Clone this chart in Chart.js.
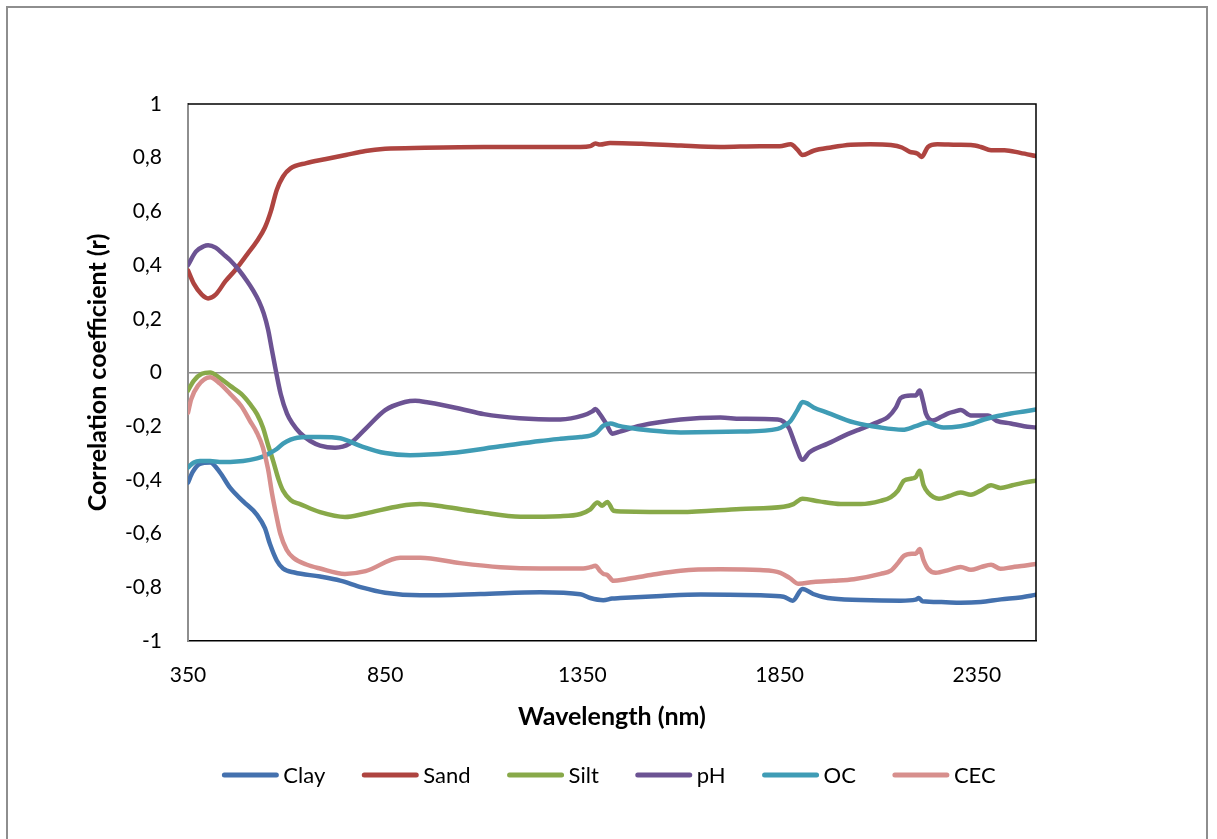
<!DOCTYPE html>
<html>
<head>
<meta charset="utf-8">
<script src="https://cdn.jsdelivr.net/npm/chart.js@4.4.1/dist/chart.umd.min.js"></script>
<style>
  html, body { margin: 0; padding: 0; background: #ffffff; overflow: hidden; }
  #wrap { position: relative; width: 1217px; height: 839px; }
  #frame { position: absolute; left: 6px; top: 6px; width: 1202px; height: 900px;
           border: 2px solid #8e8e8e; box-sizing: border-box; pointer-events: none; }
  canvas { position: absolute; left: 0; top: 0; }
</style>
</head>
<body>
<div id="wrap">
  <canvas id="chart" width="1217" height="839"></canvas>
  <div id="frame"></div>
</div>
<script>
// Correlation between soil properties and reflectance, 350–2500 nm
const xTicks = [350, 850, 1350, 1850, 2350];
const seriesNames = ['Clay', 'Sand', 'Silt', 'pH', 'OC', 'CEC'];
const seriesColors = ['#4471AE', '#AE4440', '#88A949', '#6C5393', '#3F9CB5', '#D78F8D'];

const clayWl = [350, 362, 380, 406, 430, 457, 490, 525, 545, 558, 575, 591, 620, 685, 736, 790, 850, 939, 1091, 1243, 1345, 1370, 1403, 1425, 1446, 1550, 1650, 1802, 1860, 1883, 1908, 1935, 1972, 2056, 2157, 2195, 2203, 2212, 2260, 2309, 2360, 2411, 2460, 2500];
const clayR  = [-0.41, -0.37, -0.34, -0.335, -0.37, -0.43, -0.48, -0.53, -0.58, -0.64, -0.70, -0.73, -0.745, -0.76, -0.775, -0.80, -0.82, -0.83, -0.825, -0.818, -0.826, -0.84, -0.848, -0.842, -0.84, -0.832, -0.827, -0.83, -0.835, -0.85, -0.806, -0.825, -0.84, -0.847, -0.85, -0.846, -0.84, -0.852, -0.855, -0.858, -0.855, -0.845, -0.838, -0.828];

const sandWl = [350, 365, 385, 401, 420, 445, 469, 500, 525, 545, 560, 575, 591, 610, 650, 700, 750, 800, 850, 950, 1100, 1250, 1345, 1370, 1383, 1395, 1420, 1500, 1600, 1700, 1800, 1850, 1878, 1895, 1908, 1936, 1980, 2030, 2080, 2132, 2160, 2180, 2200, 2210, 2226, 2250, 2300, 2335, 2360, 2386, 2420, 2460, 2500];
const sandR  = [0.38, 0.33, 0.29, 0.276, 0.29, 0.34, 0.38, 0.44, 0.49, 0.54, 0.60, 0.68, 0.73, 0.76, 0.78, 0.795, 0.81, 0.825, 0.833, 0.837, 0.84, 0.84, 0.84, 0.843, 0.853, 0.849, 0.855, 0.852, 0.845, 0.84, 0.843, 0.843, 0.85, 0.83, 0.81, 0.826, 0.838, 0.848, 0.85, 0.847, 0.838, 0.822, 0.815, 0.803, 0.84, 0.85, 0.848, 0.847, 0.84, 0.828, 0.828, 0.818, 0.806];

const siltWl = [350, 365, 385, 406, 430, 457, 485, 507, 525, 540, 553, 566, 580, 591, 610, 634, 685, 748, 800, 888, 939, 1000, 1091, 1193, 1294, 1345, 1370, 1388, 1400, 1413, 1429, 1450, 1599, 1751, 1860, 1885, 1908, 1950, 2005, 2056, 2106, 2132, 2150, 2165, 2185, 2195, 2205, 2215, 2226, 2254, 2280, 2309, 2335, 2360, 2386, 2410, 2440, 2470, 2500];
const siltR  = [-0.067, -0.03, -0.005, 0.0, -0.02, -0.05, -0.08, -0.117, -0.155, -0.205, -0.27, -0.33, -0.40, -0.44, -0.475, -0.49, -0.52, -0.538, -0.525, -0.497, -0.49, -0.50, -0.52, -0.537, -0.535, -0.527, -0.51, -0.484, -0.496, -0.482, -0.515, -0.518, -0.52, -0.508, -0.50, -0.49, -0.47, -0.48, -0.49, -0.49, -0.478, -0.464, -0.44, -0.403, -0.395, -0.39, -0.366, -0.42, -0.447, -0.47, -0.46, -0.447, -0.455, -0.44, -0.42, -0.43, -0.42, -0.41, -0.403];

const phWl = [350, 370, 390, 401, 420, 440, 457, 480, 500, 515, 530, 542, 553, 562, 571, 585, 601, 615, 634, 660, 685, 723, 760, 800, 850, 900, 926, 960, 1040, 1100, 1190, 1294, 1352, 1375, 1383, 1392, 1410, 1426, 1445, 1497, 1599, 1700, 1751, 1845, 1873, 1890, 1908, 1925, 1972, 2030, 2056, 2106, 2124, 2145, 2157, 2183, 2195, 2205, 2214, 2221, 2238, 2260, 2276, 2295, 2309, 2335, 2378, 2400, 2436, 2470, 2500];
const phR  = [0.40, 0.45, 0.47, 0.474, 0.465, 0.44, 0.418, 0.38, 0.34, 0.306, 0.265, 0.22, 0.16, 0.09, 0.02, -0.08, -0.153, -0.19, -0.225, -0.255, -0.272, -0.28, -0.265, -0.21, -0.14, -0.11, -0.105, -0.112, -0.135, -0.155, -0.17, -0.175, -0.16, -0.145, -0.136, -0.15, -0.19, -0.228, -0.22, -0.198, -0.175, -0.168, -0.172, -0.175, -0.205, -0.27, -0.325, -0.298, -0.265, -0.225, -0.21, -0.18, -0.167, -0.13, -0.095, -0.086, -0.086, -0.067, -0.11, -0.153, -0.179, -0.165, -0.153, -0.145, -0.14, -0.16, -0.16, -0.18, -0.19, -0.20, -0.205];

const ocWl = [350, 365, 380, 406, 430, 457, 490, 525, 545, 558, 575, 591, 610, 627, 650, 685, 736, 790, 850, 913, 1015, 1142, 1243, 1294, 1345, 1370, 1385, 1403, 1421, 1440, 1464, 1523, 1599, 1751, 1845, 1865, 1878, 1895, 1908, 1920, 1936, 1972, 2038, 2106, 2162, 2195, 2226, 2250, 2266, 2309, 2340, 2368, 2400, 2436, 2470, 2500];
const ocR  = [-0.354, -0.335, -0.33, -0.33, -0.333, -0.333, -0.33, -0.32, -0.31, -0.30, -0.285, -0.265, -0.25, -0.243, -0.24, -0.24, -0.245, -0.275, -0.30, -0.308, -0.30, -0.275, -0.255, -0.247, -0.24, -0.235, -0.225, -0.198, -0.19, -0.198, -0.205, -0.216, -0.223, -0.22, -0.21, -0.195, -0.18, -0.14, -0.11, -0.115, -0.13, -0.15, -0.186, -0.205, -0.213, -0.20, -0.186, -0.20, -0.205, -0.20, -0.19, -0.175, -0.163, -0.153, -0.145, -0.138];

const cecWl = [350, 358, 375, 406, 430, 457, 485, 507, 525, 540, 553, 563, 575, 584, 600, 617, 650, 685, 748, 800, 888, 939, 1040, 1142, 1243, 1352, 1370, 1383, 1395, 1403, 1413, 1429, 1460, 1523, 1599, 1700, 1800, 1852, 1875, 1898, 1936, 1987, 2038, 2106, 2132, 2150, 2165, 2185, 2195, 2205, 2215, 2226, 2246, 2280, 2309, 2335, 2360, 2386, 2410, 2440, 2470, 2500];
const cecR  = [-0.15, -0.10, -0.05, -0.018, -0.04, -0.08, -0.125, -0.18, -0.225, -0.28, -0.36, -0.45, -0.54, -0.60, -0.66, -0.69, -0.715, -0.73, -0.75, -0.74, -0.69, -0.69, -0.71, -0.725, -0.73, -0.73, -0.725, -0.72, -0.74, -0.75, -0.754, -0.776, -0.77, -0.754, -0.738, -0.733, -0.736, -0.746, -0.765, -0.787, -0.78, -0.776, -0.77, -0.75, -0.738, -0.71, -0.683, -0.675, -0.675, -0.657, -0.70, -0.731, -0.746, -0.735, -0.724, -0.735, -0.725, -0.716, -0.731, -0.725, -0.72, -0.713];

const seriesWl = [clayWl, sandWl, siltWl, phWl, ocWl, cecWl];
const seriesR = [clayR, sandR, siltR, phR, ocR, cecR];

const FONT = 'Lato, "Open Sans", "Noto Sans", sans-serif';

const datasets = seriesNames.map((name, i) => ({
  label: name,
  data: seriesWl[i].map((w, k) => ({ x: w, y: seriesR[i][k] })),
  borderColor: seriesColors[i],
  backgroundColor: seriesColors[i],
  borderWidth: 4.5,
  pointRadius: 0,
  cubicInterpolationMode: 'monotone',
  borderCapStyle: 'round',
  borderJoinStyle: 'round',
  fill: false,
  order: seriesNames.length - i   // later series drawn on top
}));

// Black frame on the top and right of the plot area
const plotFrame = {
  id: 'plotFrame',
  afterDraw(chart) {
    const { ctx, chartArea: a } = chart;
    ctx.save();
    ctx.strokeStyle = '#000';
    ctx.lineWidth = 1.5;
    ctx.beginPath();
    ctx.moveTo(a.left, a.top);
    ctx.lineTo(a.right, a.top);
    ctx.lineTo(a.right, a.bottom);
    ctx.stroke();
    ctx.restore();
  }
};

// Single-row legend with line samples under the axis title
const lineLegend = {
  id: 'lineLegend',
  afterDraw(chart) {
    const ctx = chart.ctx;
    const sample = 56, textGap = 5, itemGap = 37, cy = 775, cx = 609;
    ctx.save();
    ctx.font = '22px ' + FONT;
    const items = chart.data.datasets.map(d => ({ label: d.label, color: d.borderColor, w: ctx.measureText(d.label).width }));
    const total = items.reduce((s, it) => s + sample + textGap + it.w, 0) + itemGap * (items.length - 1);
    let x = cx - total / 2;
    items.forEach(it => {
      ctx.strokeStyle = it.color;
      ctx.lineWidth = 5;
      ctx.lineCap = 'round';
      ctx.beginPath();
      ctx.moveTo(x + 2, cy);
      ctx.lineTo(x + sample - 2, cy);
      ctx.stroke();
      ctx.fillStyle = '#000';
      ctx.textBaseline = 'middle';
      ctx.textAlign = 'left';
      ctx.fillText(it.label, x + sample + textGap, cy + 1);
      x += sample + textGap + it.w + itemGap;
    });
    ctx.restore();
  }
};

new Chart(document.getElementById('chart'), {
  type: 'line',
  data: { datasets },
  options: {
    responsive: false,
    animation: false,
    layout: { padding: { left: 0, top: 104, right: 181, bottom: 98 } },
    plugins: { legend: { display: false }, tooltip: { enabled: false } },
    scales: {
      x: {
        type: 'linear',
        min: 350,
        max: 2500,
        afterFit(scale) { scale.height = 100; },
        afterBuildTicks(scale) { scale.ticks = xTicks.map(v => ({ value: v })); },
        ticks: { color: '#000', font: { family: FONT, size: 21 }, padding: 22, maxRotation: 0, autoSkip: false,
                 callback: v => String(v) },
        grid: { display: true, color: 'transparent', drawTicks: false },
        border: { display: true, color: '#000', width: 1.5 },
        title: { display: true, text: 'Wavelength (nm)', color: '#000',
                 font: { family: FONT, size: 25, weight: 'bold', lineHeight: 1.2 }, padding: { top: 0, bottom: 9 } }
      },
      y: {
        min: -1,
        max: 1,
        afterFit(scale) { scale.width = 188; },
        ticks: {
          stepSize: 0.2, color: '#000', font: { family: FONT, size: 21 }, padding: 26,
          callback: v => String(Math.round(v * 10) / 10).replace('.', ',')
        },
        grid: {
          drawTicks: false,
          color: c => (c.tick && Math.abs(c.tick.value) < 1e-9 ? '#8e8e8e' : 'transparent'),
          lineWidth: 1.5
        },
        border: { display: true, color: '#8e8e8e', width: 2 },
        title: { display: true, text: 'Correlation coefficient (r)', color: '#000',
                 font: { family: FONT, size: 25, weight: 'bold', lineHeight: 1.2 }, padding: { top: 83, bottom: 0 } }
      }
    }
  },
  plugins: [plotFrame, lineLegend]
});
</script>
</body>
</html>
